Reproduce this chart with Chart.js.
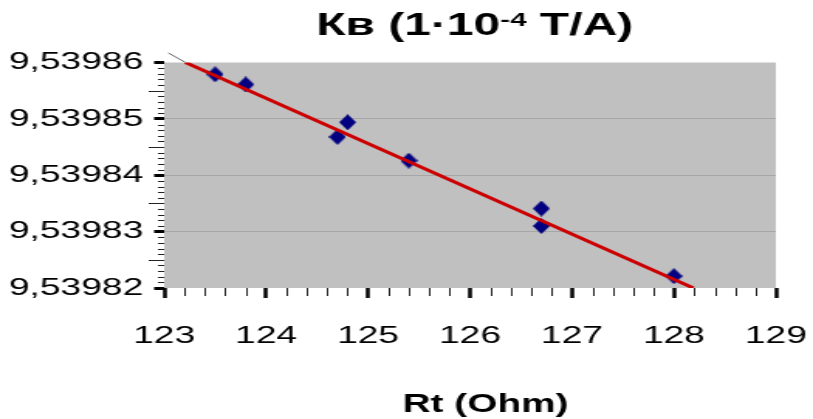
<!DOCTYPE html>
<html>
<head>
<meta charset="utf-8">
<script src="https://cdn.jsdelivr.net/npm/chart.js@4.4.1/dist/chart.umd.min.js"></script>
<style>
  html, body { margin: 0; padding: 0; background: #ffffff; }
  canvas { display: block; }
</style>
</head>
<body>
<!-- o gráfico original é esticado na horizontal, por isso o canvas é largo no CSS -->
<canvas id="grafico" width="525" height="419" style="width:813px;height:419px"></canvas>
<script>
// valores
const rtValores = [123.5, 123.8, 124.7, 124.8, 125.4, 126.7, 126.7, 128.0];
const kbValores = [9.5398579, 9.5398561, 9.5398468, 9.5398494, 9.5398426, 9.5398341, 9.5398310, 9.5398221];

// linha de tendência e o pedacinho que sai da área do gráfico
const tendenciaRt = [123.21, 128.19];
const tendenciaKb = [9.53986, 9.53982];
const prolongRt = [123.04, 123.21];
const prolongKb = [9.5398617, 9.53986];

const xTicks = [123, 124, 125, 126, 127, 128, 129];
const yTicks = [9.53982, 9.53983, 9.53984, 9.53985, 9.53986];

const fonte = '"Liberation Sans", Arial, sans-serif';

function pontos(xs, ys) {
    return xs.map((x, i) => ({ x: x, y: ys[i] }));
}

// losango azul do Excel
function criarLosango() {
    const c = document.createElement('canvas');
    c.width = 11;
    c.height = 16;
    const g = c.getContext('2d');
    g.fillStyle = '#000080';
    g.beginPath();
    g.moveTo(5.5, 0);
    g.lineTo(11, 8);
    g.lineTo(5.5, 16);
    g.lineTo(0, 8);
    g.closePath();
    g.fill();
    return c;
}

const fundoPlot = {
    id: 'fundoPlot',
    beforeDraw(chart) {
        const a = chart.chartArea;
        const ctx = chart.ctx;
        ctx.save();
        ctx.fillStyle = '#c0c0c0';
        ctx.fillRect(a.left, a.top, a.right - a.left, a.bottom - a.top);
        ctx.restore();
    }
};

const ticksMenores = {
    id: 'ticksMenores',
    afterDraw(chart) {
        const ctx = chart.ctx;
        const a = chart.chartArea;
        const sx = chart.scales.x;
        const sy = chart.scales.y;
        ctx.save();
        ctx.strokeStyle = '#222';
        ctx.lineWidth = 1;
        // eixo x: a cada 0,2
        for (let i = 0; i <= 30; i++) {
            if (i % 5 === 0) continue;
            const px = Math.round(sx.getPixelForValue(123 + i * 0.2)) + 0.5;
            ctx.beginPath();
            ctx.moveTo(px, a.bottom);
            ctx.lineTo(px, a.bottom + 8);
            ctx.stroke();
        }
        // eixo y: a cada 0,000001
        for (let i = 0; i <= 40; i++) {
            if (i % 10 === 0) continue;
            const py = Math.round(sy.getPixelForValue(9.53982 + i * 0.000001)) + 0.5;
            const len = (i % 5 === 0) ? 10 : 4;
            ctx.beginPath();
            ctx.moveTo(a.left - len, py);
            ctx.lineTo(a.left, py);
            ctx.stroke();
        }
        ctx.restore();
    }
};

// título com expoente e título do eixo x (um pouco à direita do centro, como no original)
const titulos = {
    id: 'titulos',
    afterDraw(chart) {
        const ctx = chart.ctx;
        const a = chart.chartArea;
        const partes = [
            { t: 'Кв (1·10', f: 'bold 31px ' + fonte, y: 35 },
            { t: '-4', f: 'bold 19px ' + fonte, y: 26 },
            { t: ' T/A)', f: 'bold 31px ' + fonte, y: 35 }
        ];
        ctx.save();
        ctx.fillStyle = '#000';
        ctx.textBaseline = 'alphabetic';
        ctx.textAlign = 'left';
        let total = 0;
        partes.forEach(p => { ctx.font = p.f; p.w = ctx.measureText(p.t).width; total += p.w; });
        let x = (a.left + a.right) / 2 + 3 - total / 2;
        partes.forEach(p => {
            ctx.font = p.f;
            ctx.fillText(p.t, x, p.y);
            x += p.w;
        });

        ctx.font = 'bold 25px ' + fonte;
        ctx.textAlign = 'center';
        ctx.fillText('Rt (Ohm)', (a.left + a.right) / 2 + 10, 412);
        ctx.restore();
    }
};

const ctx = document.getElementById('grafico').getContext('2d');
new Chart(ctx, {
    type: 'scatter',
    data: {
        datasets: [
            {
                label: 'Tendência',
                data: pontos(tendenciaRt, tendenciaKb),
                showLine: true,
                borderColor: '#cc0000',
                borderWidth: 3,
                pointRadius: 0,
                fill: false
            },
            {
                label: 'Prolongamento',
                data: pontos(prolongRt, prolongKb),
                showLine: true,
                borderColor: '#606060',
                borderWidth: 1,
                pointRadius: 0,
                clip: false
            },
            {
                label: 'Кв',
                data: pontos(rtValores, kbValores),
                pointStyle: criarLosango(),
                pointRadius: 6,
                showLine: false
            }
        ]
    },
    options: {
        responsive: false,
        animation: false,
        devicePixelRatio: 1,
        layout: { padding: { top: 62.5, right: 24, bottom: 0, left: 0 } },
        plugins: {
            legend: { display: false },
            tooltip: { enabled: false }
        },
        scales: {
            x: {
                type: 'linear',
                position: 'bottom',
                min: 123,
                max: 129,
                afterBuildTicks: s => { s.ticks = xTicks.map(v => ({ value: v })); },
                afterFit: s => { s.height = 131; s.paddingLeft = 0; s.paddingRight = 0; },
                border: { display: false },
                grid: {
                    drawOnChartArea: false,
                    drawTicks: true,
                    tickLength: 10,
                    tickColor: '#000',
                    tickWidth: 2.5
                },
                ticks: {
                    color: '#000',
                    padding: 24,
                    font: { family: fonte, size: 24 },
                    callback: v => String(v)
                }
            },
            y: {
                type: 'linear',
                min: 9.53982,
                max: 9.53986,
                afterBuildTicks: s => { s.ticks = yTicks.map(v => ({ value: v })); },
                afterFit: s => { s.width = 106; s.paddingTop = 0; s.paddingBottom = 0; },
                border: { display: false },
                grid: {
                    color: c => (c.index === 0 || c.index === yTicks.length - 1) ? 'rgba(0,0,0,0)' : '#a6a6a6',
                    lineWidth: 1,
                    drawTicks: true,
                    tickLength: 6.5,
                    tickColor: '#000',
                    tickWidth: 3
                },
                ticks: {
                    color: '#000',
                    padding: 7,
                    font: { family: fonte, size: 24 },
                    callback: v => Number(v).toFixed(5).replace('.', ',')
                }
            }
        }
    },
    plugins: [fundoPlot, ticksMenores, titulos]
});
</script>
</body>
</html>
